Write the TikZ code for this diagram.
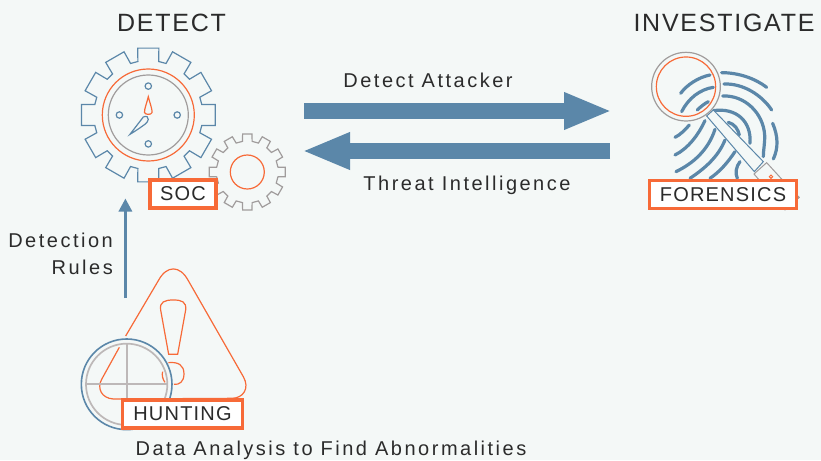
\documentclass[tikz,border=0pt]{standalone}
\usepackage{fontspec}
\setmainfont{Liberation Sans}
\newfontfamily\lblfont[LetterSpace=12.5]{Liberation Sans}
\newfontfamily\tagfont[LetterSpace=6]{Liberation Sans}
\newfontfamily\ttlfont[LetterSpace=7]{Liberation Sans}
\usetikzlibrary{arrows.meta}
\definecolor{bgc}{HTML}{F4F8F7}
\definecolor{steel}{HTML}{5B87A9}
\definecolor{org}{HTML}{F76A38}
\definecolor{gry}{HTML}{A09C9C}
\definecolor{lgry}{HTML}{BDB8B8}
\definecolor{ink}{HTML}{2B2B2B}
\tikzset{
 ttl/.style={font=\fontsize{25}{28}\selectfont\ttlfont,text=ink,inner sep=0pt},
 lbl/.style={font=\fontsize{20}{22}\selectfont\lblfont,text=ink,inner sep=0pt},
 tagbox/.style={draw=org,line width=3.5pt,fill=white,inner sep=0pt,font=\fontsize{20}{22}\selectfont\tagfont,text=ink},
 blockarrow/.style={draw=steel,line width=16pt,-{Triangle[length=48pt,width=34pt]}},
 thinarrow/.style={draw=steel,line width=3pt,-{Triangle[length=13pt,width=13pt]}},
 bluethin/.style={draw=steel,line width=1.2pt},
 orgthin/.style={draw=org,line width=1.2pt},
 grythin/.style={draw=gry,line width=1.2pt},
 ridge/.style={draw=steel,line width=3.2pt,line cap=round},
}
\begin{document}
\begin{tikzpicture}[x=1pt,y=-1pt]
\fill[bgc] (0,0) rectangle (821,460);
\useasboundingbox (0,0) rectangle (821,460);

% big gear
\begin{scope}[shift={(148.3,115)}]
 \draw[bluethin,line join=miter]
 \foreach \a [count=\i] in {0,30,...,330}{
   \ifnum\i=1 (\a-11:54.5) \else -- (\a-11:54.5) \fi -- (\a-9:67.7) -- (\a+9:67.7) -- (\a+11:54.5)
 } -- cycle;
 \draw[orgthin] (0,0) circle (46);
 \draw[grythin] (0,0) circle (40);
 \foreach \a in {0,90,180,270}{\draw[bluethin,fill=bgc] (\a:28.9) circle (3.2);}
 \draw[orgthin,fill=bgc] (0,-18.3) .. controls (1.5,-12) and (4,-6) .. (3.8,-2.5) .. controls (3.2,0) and (-3.2,0) .. (-3.8,-2.5) .. controls (-4,-6) and (-1.5,-12) .. cycle;
 \draw[bluethin,fill=bgc] (-18.3,19.3) -- (-5,2) .. controls (-2,0.5) and (0.5,2) .. (0,4.5) .. controls (-0.5,7) and (-2,8) .. (-3,9) .. controls (-7,12) and (-12,15.5) .. cycle;
\end{scope}

% small gear
\begin{scope}[shift={(247.3,172)}]
 \draw[grythin,line join=miter]
 \foreach \a [count=\i] in {0,30,...,330}{
   \ifnum\i=1 (\a-9:31) \else -- (\a-9:31) \fi -- (\a-7:38.3) -- (\a+7:38.3) -- (\a+9:31)
 } -- cycle;
 \draw[orgthin] (0,0) circle (17);
\end{scope}

% fingerprint (coordinates of 3x crop)
\begin{scope}[shift={(620,0)},x=0.3333pt,y=-0.3333pt]
 \draw[ridge] (182,280) .. controls (200,255) and (235,232) .. (270,225);
 \draw[ridge] (185,335) .. controls (205,295) and (240,268) .. (280,262);
 \draw[ridge] (232,330) .. controls (242,320) and (255,310) .. (265,305);
 \draw[ridge] (305,218) .. controls (355,218) and (405,235) .. (440,262);
 \draw[ridge] (312,252) .. controls (370,250) and (425,285) .. (455,330);
 \draw[ridge] (308,288) .. controls (375,285) and (430,340) .. (434,405) .. controls (435,430) and (430,450) .. (430,470);
 \draw[ridge] (280,332) .. controls (350,322) and (395,365) .. (390,430);
 \draw[ridge] (325,367) .. controls (345,372) and (355,390) .. (358,405);
 \draw[ridge] (458,370) .. controls (475,410) and (475,445) .. (460,477);
 \draw[ridge] (165,412) .. controls (180,405) and (195,390) .. (208,375);
 \draw[ridge] (165,465) .. controls (205,445) and (235,405) .. (255,362);
 \draw[ridge] (168,515) .. controls (220,490) and (265,450) .. (285,388);
 \draw[ridge] (210,535) .. controls (255,505) and (295,470) .. (315,420);
 \draw[ridge] (270,535) .. controls (300,515) and (325,485) .. (345,455);
 \draw[ridge] (360,485) .. controls (348,500) and (345,520) .. (352,535);
 % handle
 \draw[draw=steel,line width=1pt,fill=bgc] (280,330) -- (430,485) -- (403,515) -- (260,348) -- cycle;
 \draw[draw=gry,line width=1pt,fill=bgc] (440,488) -- (402,522) -- (495,630) -- (535,592) -- cycle;
 \draw[draw=org,line width=1pt] (453,530) circle (5);
 \fill[gry] (535,592) circle (5);
 % lens
 \draw[grythin] (198,260) circle (103);
 \draw[orgthin] (198,260) circle (89);
\end{scope}

% triangle
\begin{scope}[shift={(60,260)},x=0.3333pt,y=-0.3333pt]
 \draw[orgthin] (197,228) -- (295,62) .. controls (320,15) and (360,15) .. (385,62) -- (550,350) .. controls (570,385) and (550,415) .. (515,415) -- (160,417) .. controls (125,415) and (110,385) .. (125,358) -- (178,262);
 \draw[orgthin] (326,283) -- (302,150) .. controls (298,125) and (315,120) .. (340,120) .. controls (365,120) and (380,125) .. (377,150) -- (353,283) -- cycle;
 \draw[orgthin] (325,308) .. controls (355,305) and (372,315) .. (372,342) .. controls (372,365) and (358,375) .. (342,373);
 \draw[orgthin] (308,335) .. controls (305,345) and (308,358) .. (315,367);
 \draw[draw=steel,line width=1.6pt] (200,373) circle (136);
 \draw[draw=lgry,line width=1.7pt] (200,373) circle (122);
 \draw[draw=lgry,line width=1.7pt] (200,251) -- (200,417);
 \draw[draw=lgry,line width=1.7pt] (78,373) -- (322,373);
\end{scope}

% labels
\node[ttl] (tdetect) at (171.5,23) {DETECT};
\node[ttl] (tinv) at (724,23) {INVESTIGATE};

\coordinate (a1s) at (304,111);
\coordinate (a1e) at (612,111);
\coordinate (a2s) at (610,151);
\coordinate (a2e) at (302,151);
\draw[blockarrow] (a1s) -- (a1e);
\draw[blockarrow] (a2s) -- (a2e);
\node[lbl] (ldet) at (428,80) {Detect Attacker};
\node[lbl] (lthr) at (467,185.5) {Threat Intelligence};

\node[tagbox,minimum width=66pt,minimum height=28pt] (soc) at (183,194) {\raisebox{-1pt}{SOC}};
\node[tagbox,minimum width=147pt,minimum height=28pt] (for) at (723,194.5) {\raisebox{-0.5pt}{FORENSICS}};
\node[tagbox,minimum width=120pt,minimum height=28pt] (hun) at (182.5,414) {\raisebox{-1pt}{HUNTING}};

\coordinate (r1) at (125.4,298);
\coordinate (r2) at (125.4,198.5);
\draw[thinarrow] (r1) -- (r2);
\node[lbl,anchor=east] (lr1) at (113,240) {Detection};
\node[lbl,anchor=east] (lr2) at (113,267) {Rules};
\node[lbl] (ldata) at (331,450.5) {Data Analysis to Find Abnormalities};
\end{tikzpicture}
\end{document}
